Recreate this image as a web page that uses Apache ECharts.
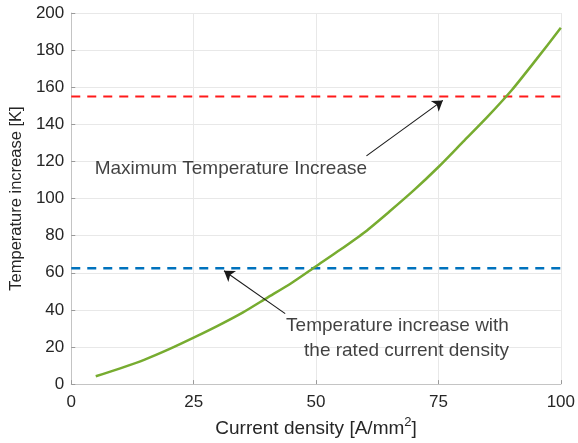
<!DOCTYPE html>
<html>
<head>
<meta charset="utf-8">
<script src="https://cdn.jsdelivr.net/npm/echarts@6/dist/echarts.min.js"></script>
<style>
  html, body { margin: 0; padding: 0; background: #fff; }
  #chart { width: 578px; height: 443px; }
</style>
</head>
<body>
<div id="chart"></div>
<script>
// Current density [A/mm^2] and resulting temperature rise [K]
const currentDensity = [5, 10, 15, 20, 25, 30, 35, 40, 45, 50, 55, 60, 65, 70, 75, 80, 85, 90, 95, 100];
const temperatureRise = [4.2, 8.5, 13.2, 18.8, 25.0, 31.5, 38.5, 46.5, 54.5, 63.5, 72.5, 82, 93, 104.5, 117, 130.5, 144, 158.5, 175, 192];

// Reference levels
const maxTempIncrease = 155;
const ratedTempIncrease = 62.5;

// Axis ticks
const xTicks = [0, 25, 50, 75, 100];
const yTicks = [0, 20, 40, 60, 80, 100, 120, 140, 160, 180, 200];

// Annotation arrows: [tail, head] in data coordinates
const maxArrow = [[60.3, 123], [75.9, 152.9]];
const ratedArrow = [[43.7, 38], [31.2, 61.1]];

// Annotation text anchors
const maxLabel = { pos: [32.6, 116], text: 'Maximum Temperature Increase' };
const ratedLabel = { pos: [89.4, 24.6], text: 'Temperature increase with\nthe rated current density' };

const FONT = 'Liberation Sans, Arial, sans-serif';
const TXT = '#262626';

const chart = echarts.init(document.getElementById('chart'));
const xyPairs = currentDensity.map((x, i) => [x, temperatureRise[i]]);

chart.setOption({
  animation: false,
  grid: { left: 70, right: 16, top: 13, bottom: 57 },
  xAxis: {
    type: 'value',
    min: xTicks[0], max: xTicks[xTicks.length - 1], interval: 25,
    name: 'Current density [A/mm{sup|2}]',
    nameLocation: 'middle', nameGap: 31,
    nameTextStyle: {
      fontFamily: FONT, fontSize: 19, color: TXT,
      rich: { sup: { fontFamily: FONT, fontSize: 13, color: TXT, verticalAlign: 'bottom', padding: [0, 0, 12, 0] } }
    },
    axisLine: { show: true, lineStyle: { color: '#c4c4c4', width: 1 } },
    axisTick: { show: true, inside: true, length: 4, lineStyle: { color: '#9a9a9a' } },
    axisLabel: { fontFamily: FONT, fontSize: 17, color: TXT, margin: 10 },
    splitLine: { show: true, lineStyle: { color: '#e8e8e8', width: 1 } }
  },
  yAxis: {
    type: 'value',
    min: yTicks[0], max: yTicks[yTicks.length - 1], interval: 20,
    name: 'Temperature increase [K]',
    nameLocation: 'middle', nameGap: 40, nameRotate: 90,
    nameTextStyle: { fontFamily: FONT, fontSize: 16.5, color: TXT },
    axisLine: { show: true, lineStyle: { color: '#c4c4c4', width: 1 } },
    axisTick: { show: true, inside: true, length: 4, lineStyle: { color: '#9a9a9a' } },
    axisLabel: { fontFamily: FONT, fontSize: 17, color: TXT, margin: 7 },
    splitLine: { show: true, lineStyle: { color: '#e8e8e8', width: 1 } }
  },
  series: [
    {
      type: 'line',
      data: xyPairs,
      smooth: 0.25,
      showSymbol: false,
      lineStyle: { color: '#77ac30', width: 2.5 },
      z: 3
    },
    {
      type: 'line',
      data: [[xTicks[0], maxTempIncrease], [xTicks[xTicks.length - 1], maxTempIncrease]],
      showSymbol: false,
      lineStyle: { color: '#ff1a1a', width: 2, type: [9, 7] },
      z: 2
    },
    {
      type: 'line',
      data: [[xTicks[0], ratedTempIncrease], [xTicks[xTicks.length - 1], ratedTempIncrease]],
      showSymbol: false,
      lineStyle: { color: '#0072bd', width: 2.5, type: [9, 7] },
      z: 2
    },
    {
      type: 'lines',
      coordinateSystem: 'cartesian2d',
      polyline: false,
      symbol: ['none', 'arrow'],
      symbolSize: [0, 10],
      lineStyle: { color: '#1a1a1a', width: 1.1, opacity: 1 },
      data: [{ coords: maxArrow }, { coords: ratedArrow }],
      z: 5
    },
    {
      type: 'scatter',
      symbolSize: 0,
      silent: true,
      data: [
        { value: maxLabel.pos, label: { show: true, formatter: maxLabel.text, position: 'inside', align: 'center', verticalAlign: 'middle' } },
        { value: ratedLabel.pos, label: { show: true, formatter: ratedLabel.text, position: 'inside', align: 'right', verticalAlign: 'middle', lineHeight: 25 } }
      ],
      label: { fontFamily: FONT, fontSize: 19, color: '#111' },
      z: 6
    }
  ]
});
</script>
</body>
</html>
